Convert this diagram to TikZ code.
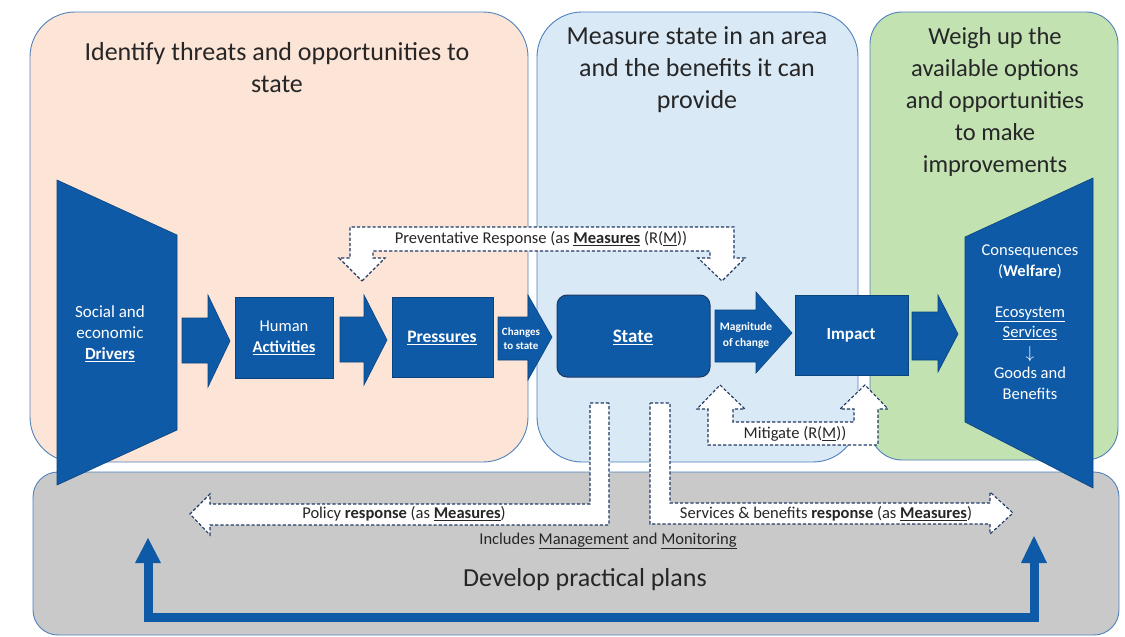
\documentclass[tikz,border=0pt]{standalone}
\usepackage{fontspec}
\setmainfont{Carlito}
\definecolor{peach}{HTML}{FCE4D6}
\definecolor{lblue}{HTML}{DAE9F6}
\definecolor{lgreen}{HTML}{C2E2B2}
\definecolor{lgrey}{HTML}{C9C9C9}
\definecolor{edgeblue}{HTML}{4F81BD}
\definecolor{dblue}{HTML}{0E5AA7}
\definecolor{navy}{HTML}{1F3864}
\definecolor{ink}{HTML}{262626}
\begin{document}
\begin{tikzpicture}[x=1pt,y=-1pt,
  panel/.style={draw=edgeblue, line width=0.9pt},
  blk/.style={fill=dblue, draw=dblue!75!black, line width=0.6pt},
  wtxt/.style={text=white, align=center, inner sep=0pt},
  dasharrow/.style={draw=navy, line width=1.1pt, dash pattern=on 3.2pt off 2pt, fill=white, line join=miter},
  title/.style={text=ink, align=center, inner sep=0pt, font=\fontsize{26}{32}\selectfont},
  lbl/.style={text=ink, inner sep=0pt, font=\fontsize{16.5}{18}\selectfont}
]
\useasboundingbox (0,0) rectangle (1125,637);

% panels
\draw[panel, fill=peach, rounded corners=45pt] (30,12) rectangle (528,462);
\draw[panel, fill=lblue, rounded corners=45pt] (537,12) rectangle (858,462);
\draw[panel, fill=lgreen, rounded corners=32pt] (870,12) rectangle (1118,460);
\draw[panel, fill=lgrey, rounded corners=25pt] (33,472) rectangle (1119,635);

% titles
\node[title] (t1) at (277,68) {Identify threats and opportunities to\\state};
\node[title] (t2) at (697,70) {Measure state in an area\\and the benefits it can\\provide};
\node[title, font=\fontsize{24.5}{32}\selectfont] (t3) at (995,102) {Weigh up the\\available options\\and opportunities\\to make\\improvements};

% drivers trapezoid
\draw[blk] (57,180) -- (177,235) -- (177,430) -- (57,485) -- cycle;
\node[wtxt, font=\fontsize{17}{21}\selectfont] (drivers) at (110,334) {Social and\\economic\\\underline{\textbf{Drivers}}};

% consequences trapezoid
\draw[blk] (965,237) -- (1093,178) -- (1093,488) -- (965,422) -- cycle;
\node[wtxt, font=\fontsize{16.5}{20.5}\selectfont] (conseq) at (1030,322) {Consequences\\(\textbf{Welfare})\\[20.5pt]\underline{Ecosystem}\\\underline{Services}\\$\downarrow$\\Goods and\\Benefits};

% boxes
\draw[blk] (235,297) rectangle (333,378);
\node[wtxt, font=\fontsize{16.5}{21}\selectfont] (act) at (284,338) {Human\\\underline{\textbf{Activities}}};
\draw[blk] (392,297) rectangle (493,377);
\node[wtxt, font=\fontsize{17.5}{20}\selectfont] (press) at (442,338) {\underline{\textbf{Pressures}}};
\draw[blk, rounded corners=10pt, draw=navy, line width=1pt] (557,295) rectangle (710,377);
\node[wtxt, font=\fontsize{19}{22}\selectfont] (state) at (633,337) {\underline{\textbf{State}}};
\draw[blk] (795,295) rectangle (908,375);
\node[wtxt, font=\fontsize{17}{20}\selectfont] (impact) at (851,335) {\textbf{Impact}};

% block arrows
\draw[blk] (182,318) -- (208,318) -- (208,295) -- (230,341) -- (208,387) -- (208,363) -- (182,363) -- cycle;
\draw[blk] (340,317) -- (364,317) -- (364,295) -- (387,340) -- (364,385) -- (364,362) -- (340,362) -- cycle;
\draw[blk] (498,317) -- (528,317) -- (528,295) -- (552,337) -- (528,380) -- (528,360) -- (498,360) -- cycle;
\node[wtxt, font=\fontsize{11}{14}\selectfont\bfseries] (chg) at (521,339) {Changes\\to state};
\draw[blk] (715,310) -- (756,310) -- (756,292) -- (792,333) -- (756,373) -- (756,362) -- (715,362) -- cycle;
\node[wtxt, font=\fontsize{11.5}{16}\selectfont\bfseries] (mag) at (746,335) {Magnitude\\of change};
\draw[blk] (912,312) -- (938,312) -- (938,295) -- (958,334) -- (938,372) -- (938,360) -- (912,360) -- cycle;

% preventative response
\draw[dasharrow] (362,281) -- (385,258) -- (373,258) -- (373,251) -- (710,251) -- (710,258) -- (698,258) -- (722,281) -- (745,258) -- (734,258) -- (734,227) -- (350,227) -- (350,258) -- (339,258) -- cycle;
\node[lbl] (prev) at (541,239) {Preventative Response (as \underline{\textbf{Measures}} (R(\underline{M}))};

% mitigate
\draw[dasharrow] (720,385) -- (745,409) -- (733,409) -- (733,422) -- (854,422) -- (854,409) -- (840,409) -- (865,385) -- (888,409) -- (878,409) -- (878,445) -- (708,445) -- (708,409) -- (697,409) -- cycle;
\node[lbl] (mit) at (795,434) {Mitigate (R(\underline{M}))};

% policy response
\draw[dasharrow] (609,403) -- (590,403) -- (590,504) -- (210,504) -- (210,494) -- (190,514) -- (210,535) -- (210,525) -- (609,525) -- cycle;
\node[lbl] (pol) at (404,514) {Policy \textbf{response} (as \underline{\textbf{Measures}})};

% services response
\draw[dasharrow] (650,403) -- (670,403) -- (670,503) -- (990,503) -- (990,492) -- (1013,513) -- (990,534) -- (990,524) -- (650,524) -- cycle;
\node[lbl] (serv) at (826,514) {Services \& benefits \textbf{response} (as \underline{\textbf{Measures}})};

\node[lbl, font=\fontsize{16.5}{18}\selectfont] (incl) at (608,541) {Includes \underline{Management} and \underline{Monitoring}};
\node[text=ink, inner sep=0pt, font=\fontsize{26}{30}\selectfont] (dev) at (585,580) {Develop practical plans};

% bottom loop arrow
\coordinate (la) at (148,562);
\coordinate (ra) at (1034,562);
\draw[dblue, line width=9pt, line join=miter] (la) -- (148,617) -- (1034,617) -- (ra);
\fill[dblue] (135,563) -- (148,538) -- (161,563) -- cycle;
\fill[dblue] (1021,563) -- (1034,536) -- (1047,563) -- cycle;
\end{tikzpicture}
\end{document}
